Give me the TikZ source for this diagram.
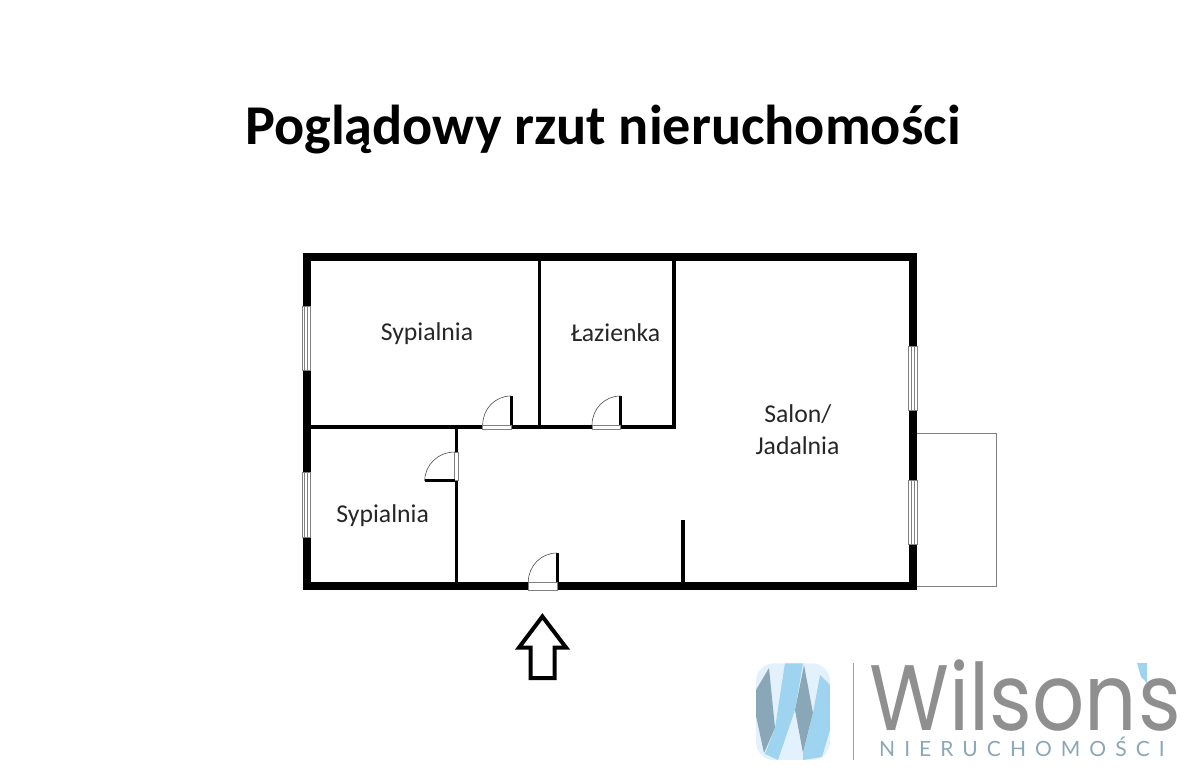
\documentclass[tikz,border=0pt]{standalone}
\usepackage{fontspec}
\setmainfont{Carlito}
\newfontfamily\logofont[FakeStretch=0.88]{Poppins}
\newfontfamily\sublogofont[LetterSpace=43]{Lato}
\definecolor{logogray}{HTML}{8F8F8F}
\definecolor{logosteel}{HTML}{8AA7B8}
\definecolor{logoblue}{HTML}{9ED4EF}
\definecolor{logopale}{HTML}{E3F1FC}
\begin{document}
\begin{tikzpicture}[x=1pt,y=-1pt]
    \tikzstyle{wall} = [draw=black, line width=8pt, line cap=butt, line join=miter]
    \tikzstyle{partition} = [draw=black, line width=3.6pt]
    \tikzstyle{windowbox} = [draw=gray, fill=white, line width=0.8pt]
    \tikzstyle{frame} = [draw=gray, fill=white, line width=0.8pt]
    \tikzstyle{leaf} = [draw=black, line width=3pt]
    \tikzstyle{swing} = [draw=black!70, line width=0.6pt]
    \tikzstyle{room} = [anchor=base, inner sep=0pt, font=\fontsize{25.7}{25.7}\selectfont, text=black!85]
    \tikzstyle{brandtext} = [anchor=base west, inner sep=0pt, text depth=0pt, font=\logofont\fontsize{93}{93}\selectfont, text=logogray]

    \useasboundingbox (0,0) rectangle (1200,775);

    \node [anchor=base, inner sep=0pt, font=\fontsize{56.2}{56.2}\selectfont\bfseries, text=black] (title) at (603,145) {Poglądowy rzut nieruchomości};

    % balcony
    \draw [draw=gray, line width=1pt] (916,433.5) rectangle (996.5,586);

    % walls
    \draw [wall] (306.5,257) rectangle (912.5,586);
    \draw [partition] (539.5,259) -- (539.5,427.3);
    \draw [partition] (674,259) -- (674,429);
    \draw [partition] (310,427.3) -- (675.8,427.3);
    \draw [partition] (456.5,427) -- (456.5,584);
    \draw [partition] (683,520) -- (683,584);

    % windows
    \draw [windowbox] (302,306.5) rectangle (310.5,370.5);
    \draw [windowbox] (304.8,306.5) rectangle (307.7,370.5);
    \draw [windowbox] (302,472.5) rectangle (310.5,537);
    \draw [windowbox] (304.8,472.5) rectangle (307.7,537);
    \draw [windowbox] (908.5,346.5) rectangle (917,410.5);
    \draw [windowbox] (911.3,346.5) rectangle (914.2,410.5);
    \draw [windowbox] (908.5,480.5) rectangle (917,544.5);
    \draw [windowbox] (911.3,480.5) rectangle (914.2,544.5);

    % doors
    \draw [frame] (482.7,425) rectangle (511,429.5);
    \draw [leaf] (511.3,396) -- (511.3,425);
    \draw [swing] (511,396) .. controls (495,396) and (482.7,409) .. (482.7,425);

    \draw [frame] (592,425) rectangle (620.5,429.5);
    \draw [leaf] (620.8,396) -- (620.8,425);
    \draw [swing] (620.5,396) .. controls (604.5,396) and (592,409) .. (592,425);

    \draw [frame] (454.5,452) rectangle (458.3,480.5);
    \draw [leaf] (424.7,481) -- (455,481);
    \draw [swing] (455,452) .. controls (438,452) and (424.7,465) .. (424.7,481);

    \draw [frame] (528.3,582) rectangle (557,590);
    \draw [leaf] (557.3,553) -- (557.3,582);
    \draw [swing] (557,553) .. controls (541,553) and (528.3,566) .. (528.3,582);

    % entrance arrow
    \draw [draw=black, line width=4pt, line join=miter] (542.4,616.5) -- (519,647.5) -- (530.7,647.5) -- (530.7,678) -- (554.7,678) -- (554.7,647.5) -- (566,647.5) -- cycle;

    % room names
    \node [room] (bedroomA) at (427,341) {Sypialnia};
    \node [room] (bathroom) at (615.5,342) {Łazienka};
    \node [room] (bedroomB) at (382.7,522.7) {Sypialnia};
    \node [room] (salon) at (797.8,423) {Salon/};
    \node [room] (dining) at (797.5,455) {Jadalnia};

    % logo
    \begin{scope}
        \clip [rounded corners=18pt] (756,663.3) rectangle (830,760);
        \fill [logopale] (756,663.3) rectangle (830,760);
        \fill [logosteel] (769,668) -- (756,690) -- (756,716) -- (764,753) -- (775,728) -- cycle;
        \fill [logoblue] (785,663) -- (803,663) -- (795,710) -- (778,760) -- (765,754) -- (775,728) -- cycle;
        \fill [logosteel] (804,665) -- (813,713) -- (803,753) -- (795,710) -- cycle;
        \fill [logoblue] (820,675) -- (830,685) -- (830,730) -- (822,757) -- (803,760) -- (803,753) -- (813,713) -- cycle;
    \end{scope}
    \draw [draw=logosteel, line width=1pt] (853.5,663) -- (853.5,760);
    \node [brandtext] (brand) at (869,730) {Wilson};
    \node [brandtext] (brandend) at (1138,730) {s};
    \fill [logoblue] (1137,663) -- (1147,663) -- (1147,683) -- (1141,677) -- cycle;
    \node [anchor=base west, inner sep=0pt, font=\sublogofont\fontsize{21}{21}\selectfont, text=logosteel] (subbrand) at (879,756) {NIERUCHOMOŚCI};
\end{tikzpicture}
\end{document}
